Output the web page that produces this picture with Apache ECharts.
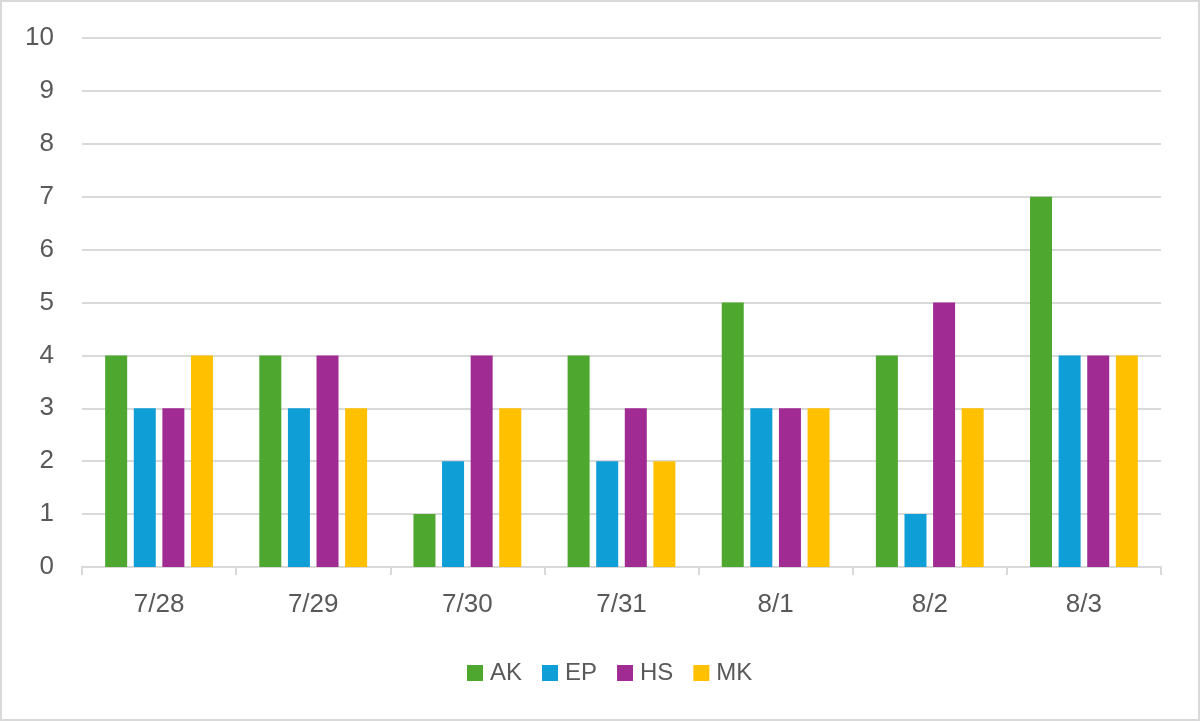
<!DOCTYPE html>
<html>
<head>
<meta charset="utf-8">
<script src="https://cdn.jsdelivr.net/npm/echarts@6/dist/echarts.min.js"></script>
<style>
  html, body { margin: 0; padding: 0; background: #fff; }
  #chart { width: 1196px; height: 717px; border: 2px solid #d9d9d9; }
</style>
</head>
<body>
<div id="chart"></div>
<script>
const categories = ['7/28', '7/29', '7/30', '7/31', '8/1', '8/2', '8/3'];
const seriesNames = ['AK', 'EP', 'HS', 'MK'];
const akValues = [4, 4, 1, 4, 5, 4, 7];
const epValues = [3, 3, 2, 2, 3, 1, 4];
const hsValues = [3, 4, 4, 3, 3, 5, 4];
const mkValues = [4, 3, 3, 2, 3, 3, 4];
const colors = ['#4ea72e', '#0f9ed5', '#a02b93', '#ffc000'];

const chart = echarts.init(document.getElementById('chart'));
const textColor = '#595959';
const font = 'Liberation Sans, Arial, sans-serif';

const values = [akValues, epValues, hsValues, mkValues];
const series = seriesNames.map((name, i) => ({
  name: name,
  type: 'bar',
  data: values[i],
  barWidth: 22,
  barGap: '30%',
  itemStyle: { color: colors[i] }
}));

chart.setOption({
  animation: false,
  color: colors,
  grid: { left: 80, right: 37, top: 36, bottom: 152 },
  legend: {
    data: seriesNames,
    top: 654,
    left: 460,
    icon: 'rect',
    itemWidth: 16,
    itemHeight: 16,
    itemGap: 20,
    textStyle: { color: textColor, fontSize: 24, fontFamily: font, padding: [0, 0, 0, 2] }
  },
  xAxis: {
    type: 'category',
    data: categories,
    axisLine: { lineStyle: { color: '#d9d9d9', width: 2 } },
    axisTick: { show: true, length: 8, lineStyle: { color: '#d9d9d9', width: 2 } },
    axisLabel: { color: textColor, fontSize: 26, fontFamily: font, margin: 25 }
  },
  yAxis: {
    type: 'value',
    min: 0,
    max: 10,
    interval: 1,
    axisLine: { show: false },
    axisTick: { show: false },
    splitLine: { lineStyle: { color: '#d9d9d9', width: 2 } },
    axisLabel: { color: textColor, fontSize: 26, fontFamily: font, margin: 28 }
  },
  series: series
});
</script>
</body>
</html>
